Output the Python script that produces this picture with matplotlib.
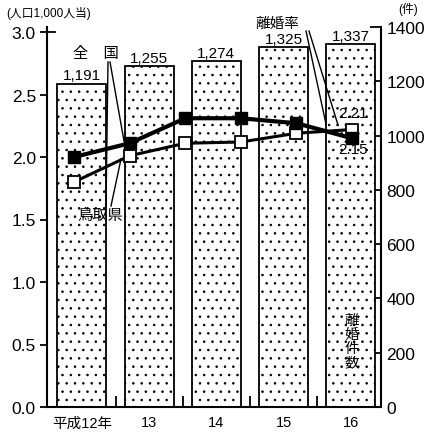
import matplotlib.pyplot as plt

plt.rcParams['font.family'] = ['Liberation Sans', 'Noto Sans CJK JP', 'DejaVu Sans']
plt.rcParams['hatch.linewidth'] = 0.6

# data
years = ["平成12年", "13", "14", "15", "16"]
divorces = [1191, 1255, 1274, 1325, 1337]
bar_labels = ["1,191", "1,255", "1,274", "1,325", "1,337"]

# divorce rate lines (6 plotted points each)
rate_national = [2.00, 2.11, 2.31, 2.31, 2.27, 2.15]
rate_tottori = [1.80, 2.01, 2.11, 2.12, 2.19, 2.22]

fig = plt.figure(figsize=(4.32, 4.35), dpi=100)
rect = [47 / 432, 27 / 435, 334 / 432, 380 / 435]

# bars + right axis
ax = fig.add_axes(rect)
x = list(range(len(years)))
ax.bar(x, divorces, width=0.73, color="white", edgecolor="black",
       linewidth=1.3, hatch="..", zorder=2)
for xi, v, lab in zip(x, divorces, bar_labels):
    ax.annotate(lab, (xi, v), xytext=(0, 1), textcoords="offset points",
                ha="center", va="bottom", fontsize=11)
ax.set_xlim(-0.52, 4.45)
ax.set_ylim(0, 1400)
ax.set_xticks(x)
ax.set_xticklabels(years, fontsize=10.5)
ax.set_xticks([0.5, 1.5, 2.5, 3.5], minor=True)
ax.tick_params(axis="x", which="major", length=0, pad=6)
ax.tick_params(axis="x", which="minor", direction="in", length=8, width=1.3)
ax.yaxis.tick_right()
ax.set_yticks([0, 200, 400, 600, 800, 1000, 1200, 1400])
ax.tick_params(axis="y", direction="in", length=8, width=1.3, labelsize=12.5, pad=4)
ax.spines["top"].set_visible(False)
for s in ["left", "right", "bottom"]:
    ax.spines[s].set_linewidth(1.5)

# lines + left axis
ax2 = fig.add_axes(rect)
ax2.patch.set_alpha(0)
for s in ax2.spines.values():
    s.set_visible(False)
xl = list(range(len(rate_national)))
ax2.plot(xl, rate_national, color="black", linewidth=3, marker="s",
         markersize=8, markerfacecolor="black", zorder=4)
ax2.plot(xl, rate_tottori, color="black", linewidth=2.2, marker="s",
         markersize=8, markerfacecolor="white", markeredgewidth=1.3, zorder=3)
ax2.set_xlim(-0.486, 5.52)
ax2.set_ylim(0, 3.04)
ax2.set_xticks([])
ax2.set_yticks([0, 0.5, 1.0, 1.5, 2.0, 2.5, 3.0])
ax2.set_yticklabels(["0.0", "0.5", "1.0", "1.5", "2.0", "2.5", "3.0"])
ax2.tick_params(axis="y", direction="out", length=5, width=1.3, labelsize=12.5, pad=3)
ax2.plot([-0.486, -0.35], [3.0, 3.0], color="black", linewidth=1.3, clip_on=False)

# annotations (figure pixel coordinates)
def px(xp, yp):
    return xp / 432, 1 - yp / 435

fig.text(*px(96, 54), "全　国", fontsize=11, ha="center", va="center")
fig.text(*px(100, 216), "鳥取県", fontsize=11, ha="center", va="center")
fig.text(*px(277, 24), "離婚率", fontsize=10.5, ha="center", va="center")
fig.text(*px(353, 114), "2.21", fontsize=11, ha="center", va="center")
fig.text(*px(353, 150), "2.15", fontsize=11, ha="center", va="center")
fig.text(*px(352, 342), "離\n婚\n件\n数", fontsize=10.5, ha="center", va="center",
         linespacing=1.0)
fig.text(*px(6, 14), "(人口1,000人当)", fontsize=8.5, ha="left", va="center")
fig.text(*px(408, 9), "(件)", fontsize=8.5, ha="center", va="center")

leaders = [
    ((108, 63), (106, 207)),
    ((110, 63), (124, 142)),
    ((111, 207), (121, 160)),
    ((306, 32), (326, 125)),
    ((309, 32), (338, 126)),
]
for (x0, y0), (x1, y1) in leaders:
    a, b = px(x0, y0)
    c, d = px(x1, y1)
    fig.add_artist(plt.Line2D([a, c], [b, d], color="black", linewidth=1.0))

fig.savefig("out.png", dpi=100)
